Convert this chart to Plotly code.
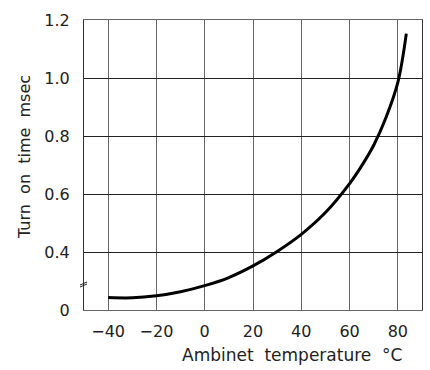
import plotly.graph_objects as go

# Data (y in display units: the axis is broken below 0.4, bottom labelled "0")
temp_c = [-40, -30, -20, -10, 0, 10, 20, 30, 40, 50, 60, 65, 70, 75, 80, 83.5]
turn_on_ms = [0.243, 0.242, 0.249, 0.263, 0.284, 0.312, 0.352, 0.402, 0.461, 0.536,
              0.636, 0.697, 0.768, 0.862, 0.985, 1.153]

x_ticks = [-40, -20, 0, 20, 40, 60, 80]
y_tickvals = [0.2, 0.4, 0.6, 0.8, 1.0, 1.2]
y_ticktext = ["0", "0.4", "0.6", "0.8", "1.0", "1.2"]

font_family = "DejaVu Sans"
nb = "\u00a0"

fig = go.Figure()
fig.add_trace(go.Scatter(
    x=temp_c, y=turn_on_ms, mode="lines",
    line=dict(color="black", width=3, shape="spline", smoothing=1.0),
    hoverinfo="skip", showlegend=False,
))

fig.update_layout(
    width=430, height=370,
    margin=dict(l=84, r=8, t=20, b=60),
    paper_bgcolor="white", plot_bgcolor="white",
    font=dict(family=font_family, size=16, color="#222"),
    xaxis=dict(
        range=[-50, 90], tickvals=x_ticks, ticks="", ticklabelstandoff=7,
        showgrid=True, gridcolor="#666", gridwidth=1,
        showline=True, linecolor="#666", linewidth=1, mirror=True,
        zeroline=False, fixedrange=True,
    ),
    yaxis=dict(
        range=[0.2, 1.2], tickvals=y_tickvals, ticktext=y_ticktext, ticks="",
        ticklabelstandoff=10,
        showgrid=True, gridcolor="#222", gridwidth=1,
        showline=True, linecolor="#333", linewidth=1, mirror=True,
        zeroline=False, fixedrange=True,
    ),
    shapes=[
        dict(type="line", xref="paper", yref="paper",
             x0=-4 / 338, x1=3 / 338, y0=(310 - 287) / 290, y1=(310 - 284) / 290,
             line=dict(color="#222", width=1)),
        dict(type="line", xref="paper", yref="paper",
             x0=-4 / 338, x1=3 / 338, y0=(310 - 285) / 290, y1=(310 - 282) / 290,
             line=dict(color="#222", width=1)),
    ],
    annotations=[
        dict(text=f"Ambinet{nb}{nb}temperature{nb}{nb}°C", xref="paper", yref="paper",
             x=(292 - 84) / 338, y=-45 / 290, xanchor="center", yanchor="middle",
             showarrow=False, font=dict(size=17, family=font_family, color="#222")),
        dict(text=f"Turn{nb}{nb}on{nb}{nb}time{nb}{nb}msec", xref="paper", yref="paper",
             x=-59 / 338, y=(310 - 157) / 290, xanchor="center", yanchor="middle",
             textangle=-90, showarrow=False,
             font=dict(size=16, family=font_family, color="#222")),
    ],
)

fig.write_html("out.html")
